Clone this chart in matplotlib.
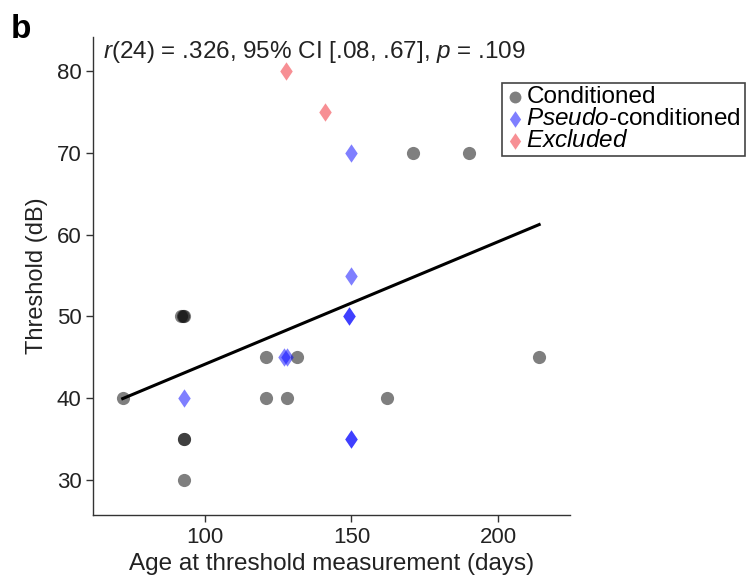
import numpy as np
import matplotlib
matplotlib.use("Agg")
import matplotlib.pyplot as plt
from matplotlib.path import Path

plt.rcParams['font.family'] = ['Liberation Sans', 'DejaVu Sans']
plt.rcParams['mathtext.fontset'] = 'custom'
plt.rcParams['mathtext.rm'] = 'Liberation Sans'
plt.rcParams['mathtext.it'] = 'Liberation Sans:italic'

# Age at threshold measurement (days) and threshold (dB) per animal
cond_age = [72, 92, 92.5, 93, 93, 93, 93, 121, 121, 131.5, 128, 162, 214, 171, 190]
cond_thr = [40, 50, 50, 50, 35, 35, 30, 45, 40, 45, 40, 40, 45, 70, 70]

pseudo_age = [93, 127, 128, 150, 150, 149, 149, 150, 150]
pseudo_thr = [40, 45, 45, 70, 55, 50, 50, 35, 35]

excl_age = [127.6, 141]
excl_thr = [80, 75]

stats_text = r"$\it{r}$(24) = .326, 95% CI [.08, .67], $\it{p}$ = .109"
x_ticks = [100, 150, 200]
y_ticks = [30, 40, 50, 60, 70, 80]

# diamond a bit wider than matplotlib's thin 'd'
diamond = Path([(0, 1), (0.68, 0), (0, -1), (-0.68, 0), (0, 1)],
               [Path.MOVETO, Path.LINETO, Path.LINETO, Path.LINETO, Path.CLOSEPOLY])

fig = plt.figure(figsize=(7.47, 5.78), dpi=100)
ax = fig.add_axes([0.125, 0.109, 0.638, 0.827])

ax.scatter(cond_age, cond_thr, s=90, marker='o', color='black', alpha=0.5,
           linewidths=0, label='Conditioned', zorder=3)
ax.scatter(pseudo_age, pseudo_thr, s=175, marker=diamond, color='blue', alpha=0.5,
           linewidths=0, label=r'$\it{Pseudo}$-conditioned', zorder=3)
ax.scatter(excl_age, excl_thr, s=175, marker=diamond, color='#f0202a', alpha=0.5,
           linewidths=0, label=r'$\it{Excluded}$', zorder=3)

# Least-squares fit over all animals
all_age = np.array(cond_age + pseudo_age + excl_age)
all_thr = np.array(cond_thr + pseudo_thr + excl_thr)
slope, intercept = np.polyfit(all_age, all_thr, 1)
xs = np.array([all_age.min(), all_age.max()])
ax.plot(xs, slope * xs + intercept, color='black', lw=2.2, zorder=4)

ax.set_xlim(62, 224.5)
ax.set_ylim(25.7, 84.2)
ax.set_xticks(x_ticks)
ax.set_yticks(y_ticks)
ax.tick_params(labelsize=16, length=5, width=1, color='#333333', labelcolor='#222222')
for side in ('top', 'right'):
    ax.spines[side].set_visible(False)
for side in ('left', 'bottom'):
    ax.spines[side].set_color('#333333')
    ax.spines[side].set_linewidth(1)

ax.set_xlabel('Age at threshold measurement (days)', fontsize=17.5, color='#222222', labelpad=4)
ax.set_ylabel('Threshold (dB)', fontsize=17, color='#222222', labelpad=6)

ax.text(0.02, 0.995, stats_text, transform=ax.transAxes, fontsize=17.5,
        va='top', ha='left', color='#222222')

fig.text(0.014, 0.935, 'b', fontsize=24, fontweight='bold')

leg = fig.legend(loc='upper left', bbox_to_anchor=(0.672, 0.857), fontsize=17.5,
                 handletextpad=0.05, handlelength=0.8, borderpad=0.15,
                 labelspacing=0.0, borderaxespad=0, fancybox=False,
                 frameon=True, framealpha=1, markerscale=0.9)
leg.get_frame().set_edgecolor('#444444')
leg.get_frame().set_linewidth(1.2)

fig.savefig('out.png', dpi=100)
